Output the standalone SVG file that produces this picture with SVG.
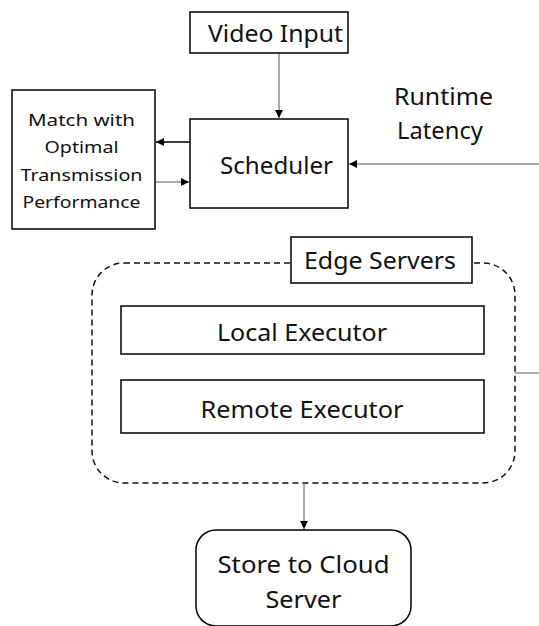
<svg xmlns="http://www.w3.org/2000/svg" width="539" height="626" viewBox="0 0 539 626">
<style>
.box{fill:#fff;stroke:#000;stroke-width:1.5}
.t{font-family:"Noto Sans","Liberation Sans",Arial,sans-serif;font-size:24px;fill:#111;text-anchor:middle}
.s{font-family:"Noto Sans","Liberation Sans",Arial,sans-serif;font-size:16px;fill:#111;text-anchor:middle}
.ln{fill:none;stroke:#555;stroke-width:1}
.lnd{fill:none;stroke:#000;stroke-width:1.5}
</style>
<defs>
<marker id="ah" viewBox="0 0 10 10" refX="10" refY="5" markerWidth="9" markerHeight="8" markerUnits="userSpaceOnUse" orient="auto">
<path d="M0,0 L10,5 L0,10 z" fill="#000"/>
</marker>
</defs>
<rect width="539" height="626" fill="#fff"/>
<g id="connectors">
<line class="ln" x1="279" y1="53" x2="279" y2="118" marker-end="url(#ah)"/>
<line class="lnd" x1="190" y1="142" x2="156" y2="142" marker-end="url(#ah)"/>
<line class="ln" x1="155" y1="182" x2="189" y2="182" marker-end="url(#ah)"/>
<line class="ln" x1="539" y1="164" x2="349" y2="164" stroke-width="1.5" marker-end="url(#ah)"/>
<line class="ln" x1="515" y1="373" x2="539" y2="373"/>
<line class="ln" x1="304" y1="484" x2="304" y2="529" marker-end="url(#ah)"/>
</g>
<g id="edge-servers">
<rect x="92" y="263" width="423" height="220" rx="32" ry="32" fill="none" stroke="#111" stroke-width="1.5" stroke-dasharray="6 4"/>
<rect class="box" x="291" y="237" width="181" height="46"/>
<text class="t" x="380" y="269" textLength="152" lengthAdjust="spacingAndGlyphs">Edge Servers</text>
</g>
<g id="video-input">
<rect class="box" x="190" y="12" width="158" height="41"/>
<text class="t" x="275.5" y="42" textLength="135" lengthAdjust="spacingAndGlyphs">Video Input</text>
</g>
<g id="scheduler">
<rect class="box" x="190" y="119" width="158" height="89"/>
<text class="t" x="276.5" y="174" textLength="113" lengthAdjust="spacingAndGlyphs">Scheduler</text>
</g>
<g id="match">
<rect class="box" x="12" y="90" width="143" height="139"/>
<text class="s" x="81.5" y="126" textLength="107" lengthAdjust="spacingAndGlyphs">Match with</text>
<text class="s" x="81.5" y="153" textLength="74" lengthAdjust="spacingAndGlyphs">Optimal</text>
<text class="s" x="81.5" y="181" textLength="122" lengthAdjust="spacingAndGlyphs">Transmission</text>
<text class="s" x="81.5" y="208" textLength="118" lengthAdjust="spacingAndGlyphs">Performance</text>
</g>
<g id="runtime-latency">
<text class="t" x="443.5" y="105" textLength="99" lengthAdjust="spacingAndGlyphs">Runtime</text>
<text class="t" x="440" y="139" textLength="86" lengthAdjust="spacingAndGlyphs">Latency</text>
</g>
<g id="local-executor">
<rect class="box" x="121" y="306" width="363" height="48"/>
<text class="t" x="302" y="341" textLength="170" lengthAdjust="spacingAndGlyphs">Local Executor</text>
</g>
<g id="remote-executor">
<rect class="box" x="121" y="380" width="363" height="53"/>
<text class="t" x="302" y="418" textLength="203" lengthAdjust="spacingAndGlyphs">Remote Executor</text>
</g>
<g id="cloud">
<rect class="box" x="196" y="530" width="215" height="96" rx="20" ry="20"/>
<text class="t" x="303.5" y="573" textLength="172" lengthAdjust="spacingAndGlyphs">Store to Cloud</text>
<text class="t" x="303.5" y="608" textLength="76" lengthAdjust="spacingAndGlyphs">Server</text>
</g>
</svg>
